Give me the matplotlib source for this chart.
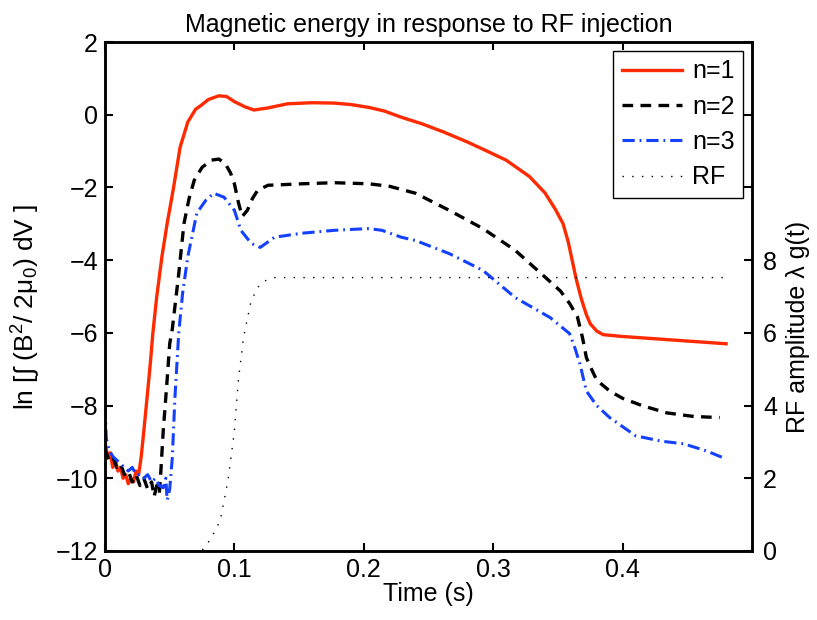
import numpy as np
import matplotlib
matplotlib.use("Agg")
import matplotlib.pyplot as plt

plt.rcParams['font.family'] = ['Liberation Sans', 'DejaVu Sans']
plt.rcParams['mathtext.fontset'] = 'custom'
plt.rcParams['mathtext.rm'] = 'Liberation Sans'
plt.rcParams['mathtext.it'] = 'Liberation Sans:italic'

# n=1 (red)
t1 = [0.000, 0.002, 0.004, 0.006, 0.008, 0.010, 0.012, 0.014, 0.016, 0.018, 0.020,
      0.022, 0.024, 0.026, 0.028, 0.030, 0.033, 0.035, 0.037, 0.040, 0.044, 0.048,
      0.053, 0.058, 0.064, 0.070, 0.074, 0.080, 0.088, 0.094, 0.100, 0.108, 0.115,
      0.125, 0.141, 0.160, 0.177, 0.190, 0.204, 0.216, 0.229, 0.245, 0.262, 0.280,
      0.294, 0.310, 0.328, 0.340, 0.348, 0.354, 0.358, 0.361, 0.364, 0.368, 0.372,
      0.375, 0.380, 0.385, 0.400, 0.420, 0.440, 0.460, 0.480]
n1 = [-9.0, -9.4, -9.3, -9.7, -9.5, -9.8, -9.7, -10.0, -9.9, -10.15, -10.0,
      -10.1, -9.8, -9.9, -9.4, -8.7, -7.6, -6.85, -6.0, -5.0, -3.9, -3.0,
      -2.0, -0.9, -0.2, 0.15, 0.25, 0.42, 0.52, 0.50, 0.36, 0.22, 0.13,
      0.18, 0.30, 0.33, 0.32, 0.28, 0.20, 0.10, -0.07, -0.25, -0.48, -0.75,
      -0.98, -1.25, -1.70, -2.15, -2.60, -3.00, -3.50, -4.00, -4.50, -5.05, -5.50,
      -5.75, -5.95, -6.05, -6.10, -6.15, -6.20, -6.25, -6.30]

# n=2 (black dashed)
t2 = [0.000, 0.003, 0.006, 0.009, 0.012, 0.015, 0.018, 0.021, 0.024, 0.027, 0.030,
      0.033, 0.036, 0.038, 0.040, 0.042, 0.043, 0.045, 0.048, 0.050, 0.052, 0.057,
      0.061, 0.065, 0.069, 0.075, 0.082, 0.088, 0.093, 0.097, 0.100, 0.103, 0.106,
      0.110, 0.114, 0.118, 0.126, 0.140, 0.152, 0.177, 0.204, 0.220, 0.240, 0.266,
      0.292, 0.317, 0.338, 0.352, 0.359, 0.365, 0.369, 0.372, 0.376, 0.380, 0.390,
      0.400, 0.415, 0.434, 0.455, 0.475]
n2 = [-9.2, -9.5, -9.4, -9.7, -9.6, -9.9, -9.8, -10.1, -9.9, -10.2, -10.0,
      -10.3, -10.1, -10.5, -10.2, -10.4, -9.9, -8.7, -7.3, -6.3, -5.9, -4.37,
      -3.0, -2.3, -1.8, -1.45, -1.25, -1.22, -1.35, -1.6, -1.9, -2.4, -2.8,
      -2.63, -2.3, -2.08, -1.94, -1.92, -1.90, -1.87, -1.90, -1.97, -2.16, -2.63,
      -3.13, -3.73, -4.40, -4.85, -5.19, -5.55, -6.13, -6.68, -7.0, -7.3, -7.6,
      -7.8, -8.0, -8.2, -8.3, -8.33]

# n=3 (blue dash-dot)
t3 = [0.000, 0.001, 0.003, 0.006, 0.009, 0.012, 0.015, 0.018, 0.021, 0.024, 0.027,
      0.030, 0.033, 0.036, 0.039, 0.042, 0.045, 0.047, 0.048, 0.050, 0.052, 0.054,
      0.057, 0.060, 0.064, 0.071, 0.078, 0.084, 0.092, 0.100, 0.105, 0.113, 0.120,
      0.131, 0.152, 0.177, 0.204, 0.214, 0.229, 0.240, 0.266, 0.292, 0.317, 0.344,
      0.359, 0.363, 0.367, 0.372, 0.380, 0.390, 0.410, 0.430, 0.447, 0.465, 0.478]
n3 = [-8.0, -8.9, -9.2, -9.4, -9.5, -9.6, -9.7, -9.8, -9.7, -9.9, -9.9,
      -10.0, -9.9, -10.1, -10.0, -10.2, -10.26, -10.0, -10.6, -10.3, -9.44, -7.8,
      -6.0, -4.9, -3.9, -2.7, -2.35, -2.16, -2.27, -2.63, -3.18, -3.54, -3.65,
      -3.37, -3.26, -3.18, -3.13, -3.18, -3.37, -3.46, -3.82, -4.28, -5.03, -5.58,
      -6.02, -6.4, -6.85, -7.6, -8.0, -8.33, -8.83, -8.98, -9.05, -9.25, -9.44]

# RF amplitude (right axis)
t_rf = [0.000, 0.070, 0.076, 0.082, 0.089, 0.095, 0.100, 0.103, 0.107, 0.113,
        0.120, 0.126, 0.131, 0.140, 0.480]
rf = [0.0, 0.0, 0.05, 0.35, 0.83, 1.93, 3.3, 4.68, 5.87, 6.9,
      7.36, 7.47, 7.52, 7.52, 7.52]

fs = 18
fig = plt.figure(figsize=(8.17, 6.2), dpi=100)
ax = fig.add_axes([105/817, 1 - 551/620, 647/817, 509/620])
ax2 = ax.twinx()

l1, = ax.plot(t1, n1, color='#ff2a00', lw=2.4, label='n=1')
l2, = ax.plot(t2, n2, color='black', lw=2.4, ls=(0, (3.2, 2.2)), label='n=2')
l3, = ax.plot(t3, n3, color='#1440ff', lw=2.2, ls=(0, (4, 1.6, 0.6, 1.6)), label='n=3')
l4, = ax2.plot(t_rf, rf, color='black', lw=1.0, ls=(0, (1, 6)), label='RF')

ax.set_xlim(0, 0.5)
ax.set_ylim(-12, 2)
ax2.set_ylim(0, 14)
ax.set_xticks([0, 0.1, 0.2, 0.3, 0.4])
ax.set_xticklabels(['0', '0.1', '0.2', '0.3', '0.4'])
ax.set_yticks(np.arange(-12, 3, 2))
ax2.set_yticks(np.arange(0, 15, 2))
ax2.set_yticklabels(['0', '2', '4', '6', '8', '', '', ''])

for a in (ax, ax2):
    a.tick_params(direction='in', length=6, width=1.5, labelsize=fs)
    for s in a.spines.values():
        s.set_linewidth(1.8)
ax.tick_params(top=True, right=False)
ax.tick_params(axis='x', pad=5)
ax.tick_params(axis='y', pad=5)
ax2.tick_params(axis='y', pad=8)

ax.set_xlabel('Time (s)', fontsize=fs, labelpad=0)
ax.set_ylabel(r'ln [$\int$ (B$^2$/ 2μ$_0$) dV ]', fontsize=19)
ax.yaxis.set_label_coords(-0.097, 0.48)
ax2.set_ylabel('RF amplitude λ g(t)', fontsize=fs)
ax2.yaxis.set_label_coords(1.052, 0.44)
ax.set_title('Magnetic energy in response to RF injection', fontsize=fs, pad=7)

leg = ax.legend([l1, l2, l3, l4], ['n=1', 'n=2', 'n=3', 'RF'], loc='upper right',
                fontsize=fs, fancybox=False, framealpha=1, edgecolor='black',
                handlelength=2.4, handletextpad=0.4, borderaxespad=0.35,
                labelspacing=0.45, borderpad=0.35)
leg.get_frame().set_linewidth(1.0)

fig.savefig('out.png', dpi=100)
